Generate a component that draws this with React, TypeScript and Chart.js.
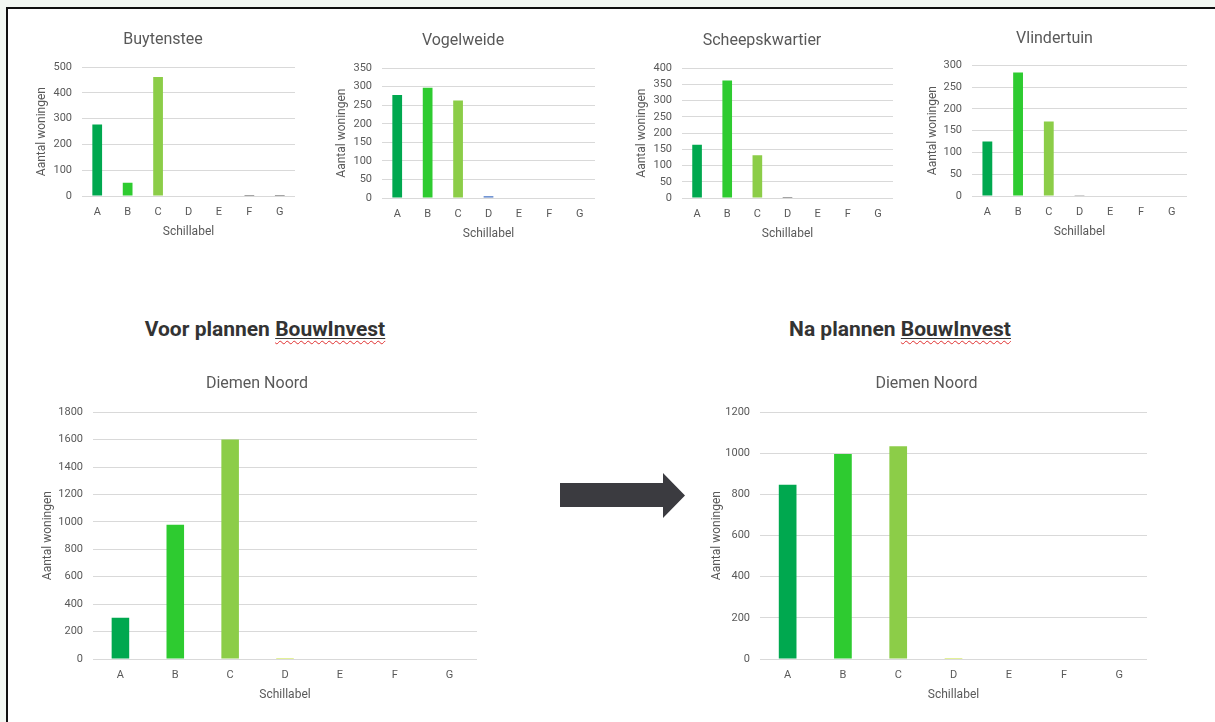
import React, { useEffect, useRef } from 'react';
import { Chart, registerables } from 'chart.js';

Chart.register(...registerables);

// ---- Data ----
const schillabels = ['A', 'B', 'C', 'D', 'E', 'F', 'G'];
const buytensteeWoningen = [278, 51, 462, 0, 0, 4, 4];
const vogelweideWoningen = [278, 297, 263, 5, 0, 0, 0];
const scheepskwartierWoningen = [164, 362, 132, 3, 0, 0, 0];
const vlindertuinWoningen = [125, 283, 171, 2, 0, 0, 0];
const diemenVoorWoningen = [301, 979, 1600, 7, 0, 0, 0];
const diemenNaWoningen = [847, 997, 1034, 5, 0, 0, 0];

const yAxisTitle = 'Aantal woningen';
const xAxisTitle = 'Schillabel';

// ---- Styles ----
const GREEN_A = '#00a84f';
const GREEN_B = '#2ecb30';
const GREEN_C = '#8ccd48';
const buytensteeColors = [GREEN_A, GREEN_B, GREEN_C, '#c8e332', '#f0c020', '#4a4a4a', '#4a4a4a'];
const vogelweideColors = [GREEN_A, GREEN_B, GREEN_C, '#4472c4', '#f0c020', '#e07020', '#c00000'];
const darkDColors = [GREEN_A, GREEN_B, GREEN_C, '#4a4a4a', '#f0c020', '#e07020', '#c00000'];
const diemenColors = [GREEN_A, GREEN_B, GREEN_C, '#c8e332', '#f0c020', '#e07020', '#c00000'];

const FONT = 'Roboto, "Liberation Sans", sans-serif';
const TEXT = '#595959';
const GRID = '#d9d9d9';

type Box = { left: number; top: number; width: number; height: number };

type BarChartProps = {
  title: string;
  values: number[];
  colors: string[];
  max: number;
  step: number;
  box: Box;
  titleSize: number;
  titlePadBottom: number;
  xTickPad: number;
  yTickPad: number;
  xAxisHeight: number;
  yAxisWidth: number;
};

function BarChart(p: BarChartProps) {
  const ref = useRef<HTMLCanvasElement | null>(null);
  useEffect(() => {
    if (!ref.current) return;
    const chart = new Chart(ref.current, {
      type: 'bar',
      data: {
        labels: schillabels,
        datasets: [
          {
            data: p.values,
            backgroundColor: p.colors,
            borderWidth: 0,
            barPercentage: 0.4,
            categoryPercentage: 0.8,
          },
        ],
      },
      options: {
        animation: false,
        responsive: false,
        maintainAspectRatio: false,
        layout: { padding: { left: 0, right: 5, top: 0, bottom: 0 } },
        plugins: {
          legend: { display: false },
          tooltip: { enabled: false },
          title: {
            display: true,
            text: p.title,
            color: TEXT,
            font: { family: FONT, size: p.titleSize, weight: 'normal' },
            padding: { top: 6, bottom: p.titlePadBottom },
          },
        },
        scales: {
          x: {
            grid: { display: false, drawTicks: false },
            border: { display: false },
            ticks: { color: TEXT, font: { family: FONT, size: 11 }, padding: p.xTickPad, maxRotation: 0 },
            title: {
              display: true,
              text: xAxisTitle,
              color: TEXT,
              font: { family: FONT, size: 12 },
              padding: { top: 4, bottom: 4 },
            },
            afterFit: (scale: any) => {
              scale.height = p.xAxisHeight;
            },
          },
          y: {
            min: 0,
            max: p.max,
            ticks: {
              stepSize: p.step,
              autoSkip: false,
              color: TEXT,
              font: { family: FONT, size: 11 },
              padding: p.yTickPad,
              callback: (v: any) => String(v),
            },
            grid: { color: GRID, drawTicks: false },
            border: { display: false },
            title: {
              display: true,
              text: yAxisTitle,
              color: TEXT,
              font: { family: FONT, size: 12 },
              padding: { top: 4, bottom: 4 },
            },
            afterFit: (scale: any) => {
              scale.width = p.yAxisWidth;
            },
          },
        },
      },
    });
    return () => chart.destroy();
  }, []);
  return (
    <canvas
      ref={ref}
      width={p.box.width}
      height={p.box.height}
      style={{ position: 'absolute', left: p.box.left, top: p.box.top, width: p.box.width, height: p.box.height, display: 'block' }}
    />
  );
}

function Heading({ prefix, cx }: { prefix: string; cx: number }) {
  return (
    <div
      style={{
        position: 'absolute',
        left: cx - 200,
        width: 400,
        top: 315,
        textAlign: 'center',
        fontFamily: FONT,
        fontWeight: 700,
        fontSize: 21,
        lineHeight: '28px',
        color: '#333333',
        whiteSpace: 'nowrap',
      }}
    >
      {prefix}{' '}
      <span style={{ textDecoration: 'underline wavy #e03030', textDecorationThickness: 1, textUnderlineOffset: 4 }}>
        <span style={{ textDecoration: 'underline solid #333333', textDecorationThickness: 1, textUnderlineOffset: 2 }}>
          BouwInvest
        </span>
      </span>
    </div>
  );
}

export default function App() {
  const small = { titleSize: 16, xTickPad: 10, yTickPad: 10, xAxisHeight: 47 };
  const big = { titleSize: 16, titlePadBottom: 19, xTickPad: 10, yTickPad: 10, xAxisHeight: 47 };
  return (
    <div style={{ position: 'fixed', left: 0, top: 0, width: 1215, height: 722, background: '#f3f8f3', overflow: 'hidden' }}>
      <div
        style={{
          position: 'absolute',
          left: 6,
          top: 7,
          right: 0,
          bottom: 0,
          background: '#ffffff',
          borderTop: '2px solid #111111',
          borderLeft: '2px solid #111111',
        }}
      />
      <BarChart title="Buytenstee" values={buytensteeWoningen} colors={buytensteeColors} max={500} step={100}
        box={{ left: 31, top: 24, width: 269, height: 219 }} titlePadBottom={18} yAxisWidth={51} {...small} />
      <BarChart title="Vogelweide" values={vogelweideWoningen} colors={vogelweideColors} max={350} step={50}
        box={{ left: 331, top: 25, width: 269, height: 220 }} titlePadBottom={18} yAxisWidth={51} {...small} />
      <BarChart title="Scheepskwartier" values={scheepskwartierWoningen} colors={darkDColors} max={400} step={50}
        box={{ left: 631, top: 25, width: 267, height: 220 }} titlePadBottom={18} yAxisWidth={51} {...small} />
      <BarChart title="Vlindertuin" values={vlindertuinWoningen} colors={darkDColors} max={300} step={50}
        box={{ left: 922, top: 23, width: 270, height: 220 }} titlePadBottom={17} yAxisWidth={50} {...small} />

      <Heading prefix="Voor plannen" cx={265} />
      <Heading prefix="Na plannen" cx={900} />

      <BarChart title="Diemen Noord" values={diemenVoorWoningen} colors={diemenColors} max={1800} step={200}
        box={{ left: 37, top: 368, width: 445, height: 338 }} yAxisWidth={56} {...big} />
      <BarChart title="Diemen Noord" values={diemenNaWoningen} colors={diemenColors} max={1200} step={200}
        box={{ left: 706, top: 368, width: 446, height: 338 }} yAxisWidth={54} {...big} />

      <svg style={{ position: 'absolute', left: 0, top: 0 }} width={1215} height={722}>
        <polygon points="560,483 663,483 663,473 685,495.5 663,518 663,507 560,507" fill="#3b3b40" />
      </svg>
    </div>
  );
}
